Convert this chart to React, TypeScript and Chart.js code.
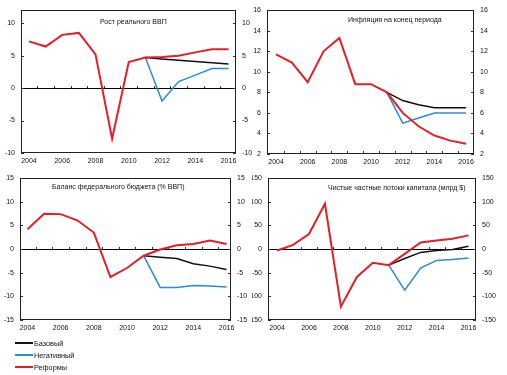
import React, { useEffect, useRef } from 'react';
import { Chart, registerables } from 'chart.js';

Chart.register(...registerables);

const years = [2004, 2005, 2006, 2007, 2008, 2009, 2010, 2011, 2012, 2013, 2014, 2015, 2016];
const yearTicks = [2004, 2006, 2008, 2010, 2012, 2014, 2016];
const seriesNames = ['Базовый', 'Негативный', 'Реформы'];

// Рост реального ВВП
const gdpReforms = [7.2, 6.4, 8.2, 8.5, 5.2, -7.8, 4.0, 4.7, 4.8, 5.0, 5.5, 6.0, 6.0];
const gdpBase = [null, null, null, null, null, null, null, 4.7, 4.5, 4.3, 4.1, 3.9, 3.7];
const gdpNegative = [null, null, null, null, null, null, null, 4.7, -2.0, 1.0, 2.0, 3.0, 3.0];
const gdpTicks = [-10, -5, 0, 5, 10];

// Инфляция на конец периода
const inflReforms = [11.7, 10.9, 9.0, 12.0, 13.3, 8.8, 8.8, 8.0, 6.0, 4.7, 3.8, 3.3, 3.0];
const inflBase = [null, null, null, null, null, null, null, 8.0, 7.2, 6.8, 6.5, 6.5, 6.5];
const inflNegative = [null, null, null, null, null, null, null, 8.0, 5.0, 5.5, 6.0, 6.0, 6.0];
const inflTicks = [2, 4, 6, 8, 10, 12, 14, 16];

// Баланс федерального бюджета (% ВВП)
const budgetReforms = [4.2, 7.5, 7.4, 6.1, 3.5, -5.9, -4.0, -1.4, -0.1, 0.8, 1.1, 1.8, 1.1];
const budgetBase = [null, null, null, null, null, null, null, -1.4, -1.7, -2.0, -3.1, -3.6, -4.3];
const budgetNegative = [null, null, null, null, null, null, null, -1.4, -8.1, -8.1, -7.7, -7.8, -8.0];
const budgetTicks = [-15, -10, -5, 0, 5, 10, 15];

// Чистые частные потоки капитала (млрд $)
const flowsReforms = [-3, 9, 32, 96, -122, -59, -29, -34, -10, 14, 18, 22, 29];
const flowsBase = [null, null, null, null, null, null, null, -34, -20, -7, -3, -1, 6];
const flowsNegative = [null, null, null, null, null, null, null, -34, -87, -40, -24, -22, -19];
const flowsTicks = [-150, -100, -50, 0, 50, 100, 150];

const RED = '#e3202a';
const BLUE = '#2a8ad8';
const BLACK = '#111111';
const FONT = '"Liberation Sans", Arial, sans-serif';

const decoPlugin = {
  id: 'deco',
  beforeDatasetsDraw(chart: any, _a: any, o: any) {
    const { ctx, chartArea } = chart;
    const { left, right, top, bottom } = chartArea;
    const ys = chart.scales.y;
    const xs = chart.scales.x;
    ctx.save();
    ctx.font = `7px ${FONT}`;
    ctx.fillStyle = '#111';
    ctx.textBaseline = 'middle';
    ctx.textAlign = 'left';
    ctx.fillText(o.title, left + o.dx, top + o.dy);

    ctx.strokeStyle = '#000';
    ctx.lineWidth = 1;
    const hasZero = ys.min < 0 && ys.max > 0;
    const yz = hasZero ? Math.round(ys.getPixelForValue(0)) + 0.5 : Math.round(bottom) - 0.5;
    ctx.beginPath();
    if (hasZero) {
      ctx.moveTo(left, yz);
      ctx.lineTo(right, yz);
    }
    ctx.stroke();
    ctx.strokeStyle = '#333';
    ctx.beginPath();
    for (let i = 0; i < years.length - 1; i++) {
      const px = Math.round(xs.getPixelForValue(years[i] + 0.5)) + 0.5;
      ctx.moveTo(px, yz);
      ctx.lineTo(px, yz - 2.5);
    }
    for (const v of o.yTicks) {
      const py = Math.round(ys.getPixelForValue(v)) + 0.5;
      ctx.moveTo(left, py);
      ctx.lineTo(left + 3, py);
      ctx.moveTo(right - 3, py);
      ctx.lineTo(right, py);
    }
    ctx.stroke();
    ctx.restore();
  },
  afterDatasetsDraw(chart: any) {
    const { ctx, chartArea } = chart;
    const { left, right, top, bottom } = chartArea;
    ctx.save();
    ctx.strokeStyle = '#222';
    ctx.lineWidth = 1;
    const l = Math.round(left) + 0.5;
    const t = Math.round(top) + 0.5;
    const r = Math.round(right) - 0.5;
    const b = Math.round(bottom) - 0.5;
    ctx.strokeRect(l, t, r - l, b - t);
    ctx.restore();
  },
};

type PanelProps = {
  x0: number; y0: number; w: number; h: number;
  left: number; right: number; top: number; bottom: number;
  xmin: number; xmax: number; ymin: number; ymax: number;
  yTicks: number[]; title: string; dx: number; dy: number;
  reforms: (number | null)[]; base: (number | null)[]; negative: (number | null)[];
};

const toPts = (arr: (number | null)[]) => years.map((x, i) => ({ x, y: arr[i] }));

function Panel(p: PanelProps) {
  const ref = useRef<HTMLCanvasElement>(null);
  useEffect(() => {
    if (!ref.current) return;
    const tickFont = { family: FONT, size: 7 };
    const yAxis = (pos: string, width: number) => ({
      type: 'linear',
      position: pos,
      min: p.ymin,
      max: p.ymax,
      afterBuildTicks: (s: any) => { s.ticks = p.yTicks.map((v) => ({ value: v })); },
      afterFit: (s: any) => { s.width = width; },
      grid: { display: false, drawTicks: false },
      border: { display: false },
      ticks: { font: tickFont, color: '#111', padding: 6, callback: (v: any) => String(v) },
    });
    const chart = new Chart(ref.current, {
      type: 'line',
      data: {
        datasets: [
          { label: seriesNames[2], data: toPts(p.reforms), borderColor: RED, backgroundColor: RED, borderWidth: 2, pointRadius: 0, tension: 0 },
          { label: seriesNames[0], data: toPts(p.base), borderColor: BLACK, backgroundColor: BLACK, borderWidth: 1.5, pointRadius: 0, tension: 0 },
          { label: seriesNames[1], data: toPts(p.negative), borderColor: BLUE, backgroundColor: BLUE, borderWidth: 1.5, pointRadius: 0, tension: 0 },
        ],
      },
      options: {
        responsive: false,
        animation: false,
        events: [],
        layout: { padding: { top: p.top - p.y0, left: 0, right: 0, bottom: 0 } },
        plugins: {
          legend: { display: false },
          tooltip: { enabled: false },
          deco: { title: p.title, dx: p.dx, dy: p.dy, yTicks: p.yTicks },
        } as any,
        scales: {
          x: {
            type: 'linear',
            min: p.xmin,
            max: p.xmax,
            afterBuildTicks: (s: any) => { s.ticks = yearTicks.map((v) => ({ value: v })); },
            afterFit: (s: any) => { s.height = p.y0 + p.h - p.bottom; },
            grid: { display: false, drawTicks: false },
            border: { display: false },
            ticks: { font: tickFont, color: '#111', padding: 4, maxRotation: 0, autoSkip: false, callback: (v: any) => String(v) },
          },
          y: yAxis('left', p.left - p.x0),
          y2: yAxis('right', p.x0 + p.w - p.right),
        } as any,
      },
      plugins: [decoPlugin],
    });
    return () => chart.destroy();
  }, []);
  return (
    <canvas
      ref={ref}
      width={p.w}
      height={p.h}
      style={{ position: 'absolute', left: p.x0, top: p.y0, width: p.w, height: p.h }}
    />
  );
}

const legendColors = [BLACK, BLUE, RED];

export default function App() {
  return (
    <div style={{ position: 'absolute', left: 0, top: 0, width: 507, height: 375, background: '#fff', overflow: 'hidden' }}>
      <Panel x0={0} y0={0} w={252} h={168} left={21} right={236} top={9} bottom={153}
        xmin={2003.52} xmax={2016.45} ymin={-10} ymax={12} yTicks={gdpTicks}
        title="Рост реального ВВП" dx={79} dy={12}
        reforms={gdpReforms} base={gdpBase} negative={gdpNegative} />
      <Panel x0={252} y0={0} w={255} h={168} left={267} right={474} top={10} bottom={154}
        xmin={2003.43} xmax={2016.5} ymin={2} ymax={16} yTicks={inflTicks}
        title="Инфляция на конец периода" dx={81} dy={10}
        reforms={inflReforms} base={inflBase} negative={inflNegative} />
      <Panel x0={0} y0={168} w={252} h={170} left={20} right={231} top={175} bottom={320}
        xmin={2003.55} xmax={2016.27} ymin={-15} ymax={15} yTicks={budgetTicks}
        title="Баланс федерального бюджета (% ВВП)" dx={32} dy={9}
        reforms={budgetReforms} base={budgetBase} negative={budgetNegative} />
      <Panel x0={252} y0={168} w={255} h={170} left={268} right={476} top={175} bottom={320}
        xmin={2003.43} xmax={2016.47} ymin={-150} ymax={150} yTicks={flowsTicks}
        title="Чистые частные потоки капитала (млрд $)" dx={60} dy={10}
        reforms={flowsReforms} base={flowsBase} negative={flowsNegative} />
      <div style={{ position: 'absolute', left: 15, top: 337, fontFamily: FONT, fontSize: 7.3, color: '#111' }}>
        {seriesNames.map((name, i) => (
          <div key={name} style={{ display: 'flex', alignItems: 'center', height: 12 }}>
            <div style={{ width: 18, height: 0, borderTop: `2px solid ${legendColors[i]}`, marginRight: 1 }} />
            <span>{name}</span>
          </div>
        ))}
      </div>
    </div>
  );
}
